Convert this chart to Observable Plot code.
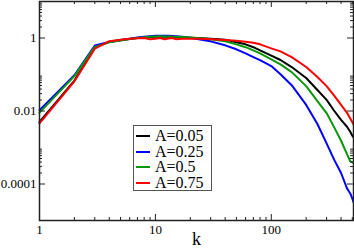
<!DOCTYPE html>
<html><head><meta charset="utf-8">
<script src="https://cdn.jsdelivr.net/npm/d3@7"></script>
<script src="https://cdn.jsdelivr.net/npm/@observablehq/plot@0.6"></script>
<style>
body{margin:0;background:#fff;}
#wrap{position:relative;width:354px;height:249px;}
#legend{position:absolute;left:133px;top:125px;width:79px;height:66px;border:1px solid #555;background:#fff;box-sizing:border-box;padding-top:2px;font-family:"Liberation Serif",serif;font-size:16px;}
.row{height:15.5px;line-height:15.5px;position:relative;white-space:nowrap;}
.sw{position:absolute;left:2px;top:7px;width:14px;height:2px;}
.lb{position:absolute;left:21px;top:0;}
</style>
</head><body>
<div id="wrap"><div id="chart"></div><div id="legend"></div></div>
<script>
const k = [1,2,3,4,5,6,7,8,9,10,11,12,13,14,15,17,20,25,30,40,50,60,70,80,100,120,150,200,250,300,350,400,450,480,500,512];
const a005 = [0.005,0.068,0.55,0.78,0.87,0.94,1.0,1.04,1.07,1.09,1.09,1.08,1.08,1.07,1.06,1.04,1.01,0.98,0.95,0.89,0.76,0.67,0.56,0.46,0.33,0.25,0.16,0.08,0.0377,0.0201,0.01,0.0057,0.0037,0.0027,0.0021,0.0019];
const a025 = [0.0105,0.095,0.62,0.78,0.88,0.96,1.03,1.08,1.12,1.15,1.16,1.16,1.15,1.14,1.12,1.08,1.02,0.9,0.81,0.63,0.49,0.38,0.30,0.247,0.17,0.102,0.051,0.0147,0.0044,0.0013,0.00045,0.0002,7.6e-5,5.5e-5,4.0e-5,3.2e-5];
const a05 = [0.009,0.09,0.57,0.76,0.86,0.94,1.0,1.05,1.08,1.1,1.11,1.1,1.1,1.09,1.08,1.06,1.04,0.98,0.92,0.81,0.67,0.56,0.46,0.38,0.26,0.19,0.116,0.048,0.0187,0.0088,0.0035,0.00153,0.00066,0.00042,0.00039,0.00038];
const a075 = [0.0046,0.065,0.51,0.82,0.9,0.95,0.98,1.0,0.92,0.96,1.0,0.92,0.97,1.0,0.93,0.96,0.95,0.95,0.92,0.88,0.84,0.79,0.74,0.67,0.52,0.43,0.30,0.16,0.085,0.048,0.026,0.0147,0.0089,0.0062,0.0049,0.0043];
const seriesNames = ["A=0.05","A=0.25","A=0.5","A=0.75"];
const seriesColors = ["#000000","#0000ff","#0a960a","#ff0000"];
const seriesValues = [a005,a025,a05,a075];
const xMajor = [1,10,100];
const yMajor = [1e-4,1e-2,1];
const minorMult = [2,3,4,5,6,7,8,9];

const W = 354, H = 249, mL = 39, mR = 1, mT = 1, mB = 29;
const pw = W - mL - mR, ph = H - mT - mB;
const xMinor = xMajor.flatMap(b => minorMult.map(m => m*b)).filter(v => v < 512);
const yMinor = yMajor.flatMap(b => minorMult.map(m => m*b)).filter(v => v < 10);
const font = "Liberation Serif";

const lines = seriesValues.map((vals, i) =>
  Plot.line(k.map((kk, j) => ({k: kk, v: vals[j]})), {x: "k", y: "v", stroke: seriesColors[i], strokeWidth: 2}));

const tickStyle = {stroke: "#222", strokeWidth: 1};
const chart = Plot.plot({
  width: W, height: H,
  marginLeft: mL, marginRight: mR, marginTop: mT, marginBottom: mB,
  style: {fontFamily: font, background: "#fff"},
  x: {type: "log", domain: [1, 512]},
  y: {type: "log", domain: [1e-5, 10]},
  marks: [
    ...lines,
    Plot.ruleX(xMajor, {...tickStyle, insetTop: ph - 6}),
    Plot.ruleX(xMajor, {...tickStyle, insetBottom: ph - 6}),
    Plot.ruleX(xMinor, {...tickStyle, insetTop: ph - 3}),
    Plot.ruleX(xMinor, {...tickStyle, insetBottom: ph - 3}),
    Plot.ruleY(yMajor, {...tickStyle, insetRight: pw - 6}),
    Plot.ruleY(yMajor, {...tickStyle, insetLeft: pw - 6}),
    Plot.ruleY(yMinor, {...tickStyle, insetRight: pw - 3}),
    Plot.ruleY(yMinor, {...tickStyle, insetLeft: pw - 3}),
    Plot.frame({stroke: "#222", strokeWidth: 1.5}),
    Plot.axisX({ticks: xMajor, tickSize: 0, tickPadding: 4, tickFormat: d => String(d), fontSize: 13, label: null, fill: "#000"}),
    Plot.axisY({ticks: yMajor, tickSize: 0, tickPadding: 3, tickFormat: d => String(d), fontSize: 13, label: null, fill: "#000"}),
    Plot.text(["k"], {frameAnchor: "bottom", dy: 24, text: d => d, fontSize: 18, fontFamily: font, fill: "#000"})
  ]
});
document.getElementById("chart").appendChild(chart);

const leg = document.getElementById("legend");
seriesNames.forEach((n, i) => {
  const r = document.createElement("div"); r.className = "row";
  const s = document.createElement("div"); s.className = "sw"; s.style.background = seriesColors[i];
  const t = document.createElement("div"); t.className = "lb"; t.textContent = n;
  r.appendChild(s); r.appendChild(t); leg.appendChild(r);
});
</script>
</body></html>
